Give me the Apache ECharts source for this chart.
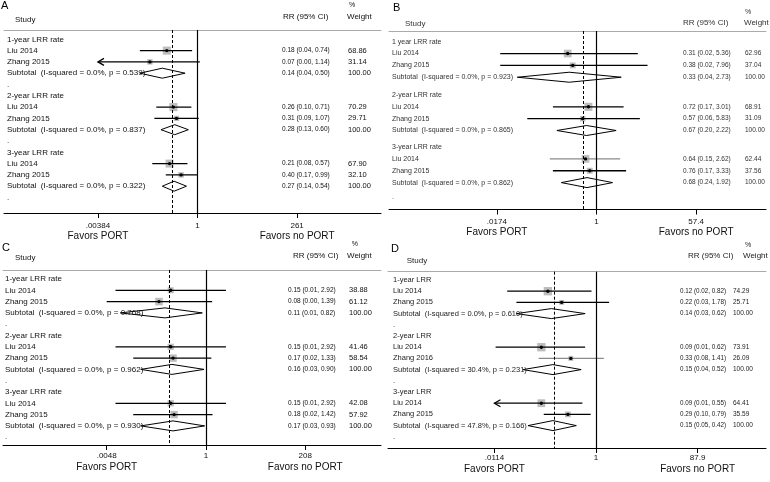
<!DOCTYPE html>
<html><head><meta charset="utf-8">
<script src="https://cdn.jsdelivr.net/npm/echarts@6/dist/echarts.min.js"></script>
<style>html,body{margin:0;padding:0;background:#fff}#c{width:770px;height:482px}</style>
</head><body><div id="c"></div>
<script>
// ---------------- Panel A ----------------
const A_groups = ['1-year LRR rate', '2-year LRR rate', '3-year LRR rate'];
const A_names = ['Liu 2014', 'Zhang 2015', 'Liu 2014', 'Zhang 2015', 'Liu 2014', 'Zhang 2015'];
const A_rr = [0.18, 0.07, 0.26, 0.31, 0.21, 0.40];
const A_lo = [0.04, 0.003, 0.10, 0.09, 0.08, 0.17];
const A_hi = [0.74, 1.14, 0.71, 1.07, 0.57, 0.99];
const A_w = [68.86, 31.14, 70.29, 29.71, 67.90, 32.10];
const A_subRR = [0.14, 0.28, 0.27];
const A_subLo = [0.04, 0.13, 0.14];
const A_subHi = [0.50, 0.60, 0.54];
const A_i2 = ['0.0%', '0.0%', '0.0%'];
const A_p = ['0.539', '0.837', '0.322'];
const A_tickVals = [0.00384, 1, 261];
const A_tickLabels = ['.00384', '1', '261'];
const A_overall = 0.25;

// ---------------- Panel B ----------------
const B_groups = ['1 year LRR rate', '2-year LRR rate', '3-year LRR rate'];
const B_names = ['Liu 2014', 'Zhang 2015', 'Liu 2014', 'Zhang 2015', 'Liu 2014', 'Zhang 2015'];
const B_rr = [0.31, 0.38, 0.72, 0.57, 0.64, 0.76];
const B_lo = [0.02, 0.02, 0.17, 0.06, 0.15, 0.17];
const B_hi = [5.36, 7.96, 3.01, 5.83, 2.62, 3.33];
const B_w = [62.96, 37.04, 68.91, 31.09, 62.44, 37.56];
const B_subRR = [0.33, 0.67, 0.68];
const B_subLo = [0.04, 0.20, 0.24];
const B_subHi = [2.73, 2.22, 1.92];
const B_i2 = ['0.0%', '0.0%', '0.0%'];
const B_p = ['0.923', '0.865', '0.862'];
const B_tickVals = [0.0174, 1, 57.4];
const B_tickLabels = ['.0174', '1', '57.4'];
const B_overall = 0.585;

// ---------------- Panel C ----------------
const C_groups = ['1-year LRR rate', '2-year LRR rate', '3-year LRR rate'];
const C_names = ['Liu 2014', 'Zhang 2015', 'Liu 2014', 'Zhang 2015', 'Liu 2014', 'Zhang 2015'];
const C_rr = [0.15, 0.08, 0.15, 0.17, 0.15, 0.18];
const C_lo = [0.0077, 0.0048, 0.0077, 0.02, 0.0077, 0.02];
const C_hi = [2.92, 1.39, 2.92, 1.33, 2.92, 1.42];
const C_w = [38.88, 61.12, 41.46, 58.54, 42.08, 57.92];
const C_subRR = [0.11, 0.16, 0.17];
const C_subLo = [0.01, 0.03, 0.03];
const C_subHi = [0.82, 0.90, 0.93];
const C_i2 = ['0.0%', '0.0%', '0.0%'];
const C_p = ['0.768', '0.962', '0.930'];
const C_tickVals = [0.0048, 1, 208];
const C_tickLabels = ['.0048', '1', '208'];
const C_overall = 0.139;

// ---------------- Panel D ----------------
const D_groups = ['1-year LRR', '2-year LRR', '3-year LRR'];
const D_names = ['Liu 2014', 'Zhang 2015', 'Liu 2014', 'Zhang 2016', 'Liu 2014', 'Zhang 2015'];
const D_rr = [0.12, 0.22, 0.09, 0.33, 0.09, 0.29];
const D_lo = [0.02, 0.03, 0.012, 0.08, 0.008, 0.10];
const D_hi = [0.82, 1.78, 0.62, 1.41, 0.55, 0.79];
const D_w = [74.29, 25.71, 73.91, 26.09, 64.41, 35.59];
const D_subRR = [0.14, 0.15, 0.15];
const D_subLo = [0.03, 0.04, 0.05];
const D_subHi = [0.62, 0.52, 0.42];
const D_i2 = ['0.0%', '30.4%', '47.8%'];
const D_p = ['0.610', '0.231', '0.166'];
const D_tickVals = [0.0114, 1, 87.9];
const D_tickLabels = ['.0114', '1', '87.9'];
const D_overall = 0.159;

const FONT = '"Liberation Sans", Arial, sans-serif';

// layout (pixels) per panel
const layouts = [
  {letter:'A', left:4, right:381, c:197.5, k:17.9, top:30, bottom:213, row0:39.3, s:11.3,
   groupRows:[0,5,10], dotRows:[4,9,14], labelX:7, rrX:282, wX:348, wAlign:'left', sep:' ',
   labelFs:8, valFs:6.5, wFs:7.5, color:'#111', letterPos:[1,6], studyPos:[15,20], pctPos:[349,5],
   rrHeadPos:[283,16.5], wHeadPos:[347,16.5], margin:8, fLine:11, gray:[]},
  {letter:'B', left:389, right:766, c:596.5, k:24.6, top:31, bottom:209.5, row0:41.7, s:11.84,
   groupRows:[0,4.5,8.9], dotRows:[13.15], labelX:392, rrX:683, wX:745, wAlign:'left', sep:' ',
   labelFs:7, valFs:6.5, wFs:6.5, color:'#333', letterPos:[393,8], studyPos:[405,23.3], pctPos:[745,11.7],
   rrHeadPos:[683,22.7], wHeadPos:[744,22.7], margin:7, fLine:11, gray:[4]},
  {letter:'C', left:3, right:381, c:206, k:18.6, top:270, bottom:445, row0:279, s:11.3,
   groupRows:[0,5,10], dotRows:[4,9,14], labelX:5, rrX:288, wX:349, wAlign:'left', sep:' ',
   labelFs:8, valFs:6.5, wFs:7.5, color:'#111', letterPos:[2,248], studyPos:[15,257.3], pctPos:[351.7,244],
   rrHeadPos:[293,255.7], wHeadPos:[347,255.7], margin:6, fLine:13, gray:[]},
  {letter:'D', left:388, right:766, c:596, k:22.7, top:271.7, bottom:448, row0:280, s:11.2,
   groupRows:[0,5,10], dotRows:[4,9,14], labelX:393, rrX:680, wX:733, wAlign:'left', sep:' ',
   labelFs:7.5, valFs:6.3, wFs:6.5, color:'#222', letterPos:[391,248.5], studyPos:[406.7,260.7], pctPos:[745,245],
   rrHeadPos:[688,255.7], wHeadPos:[743,255.7], margin:5, fLine:13, gray:[3]}
];

const panels = [
  {groups:A_groups, names:A_names, rr:A_rr, lo:A_lo, hi:A_hi, w:A_w, subRR:A_subRR, subLo:A_subLo, subHi:A_subHi, i2:A_i2, p:A_p, tickVals:A_tickVals, tickLabels:A_tickLabels, overall:A_overall},
  {groups:B_groups, names:B_names, rr:B_rr, lo:B_lo, hi:B_hi, w:B_w, subRR:B_subRR, subLo:B_subLo, subHi:B_subHi, i2:B_i2, p:B_p, tickVals:B_tickVals, tickLabels:B_tickLabels, overall:B_overall},
  {groups:C_groups, names:C_names, rr:C_rr, lo:C_lo, hi:C_hi, w:C_w, subRR:C_subRR, subLo:C_subLo, subHi:C_subHi, i2:C_i2, p:C_p, tickVals:C_tickVals, tickLabels:C_tickLabels, overall:C_overall},
  {groups:D_groups, names:D_names, rr:D_rr, lo:D_lo, hi:D_hi, w:D_w, subRR:D_subRR, subLo:D_subLo, subHi:D_subHi, i2:D_i2, p:D_p, tickVals:D_tickVals, tickLabels:D_tickLabels, overall:D_overall}
];

function txt(x, y, text, fs, color, align) {
  return {type:'text', x:x, y:y, silent:true,
    style:{text:text, fill:color, font: fs + 'px ' + FONT, fontSize:fs, fontFamily:FONT,
      align:align || 'left', verticalAlign:'middle', textAlign:align || 'left', textVerticalAlign:'middle'}};
}

const option = {animation:false, backgroundColor:'#fff', grid:[], xAxis:[], yAxis:[], series:[], graphic:[]};

panels.forEach(function (P, pi) {
  const L = layouts[pi];
  const xMin = (L.left - L.c) / L.k, xMax = (L.right - L.c) / L.k;
  const yMin = -(L.row0 - L.top) / L.s, yMax = (L.bottom - L.row0) / L.s;
  const tickLn = P.tickVals.map(Math.log);
  const lnMin = tickLn[0], lnMax = tickLn[2];

  option.grid.push({left:L.left, top:L.top, width:L.right - L.left, height:L.bottom - L.top});
  option.xAxis.push({
    type:'value', gridIndex:pi, min:xMin, max:xMax, position:'bottom',
    axisLine:{show:true, onZero:false, lineStyle:{color:'#000', width:1}},
    axisTick:{show:true, customValues:tickLn, length:5, lineStyle:{color:'#000', width:1}},
    splitLine:{show:false},
    axisLabel:{show:true, customValues:tickLn, margin:L.margin, hideOverlap:false,
      formatter:function (v) {
        let idx = 0, best = 1e9;
        tickLn.forEach(function (t, i) { if (Math.abs(t - v) < best) { best = Math.abs(t - v); idx = i; } });
        const lab = P.tickLabels[idx];
        if (idx === 0) return '{t|' + lab + '}\n{f|Favors PORT}';
        if (idx === 2) return '{t|' + lab + '}\n{f|Favors no PORT}';
        return '{t|' + lab + '}';
      },
      rich:{
        t:{fontSize:8, lineHeight:10, fontFamily:FONT, color:'#111', align:'center'},
        f:{fontSize:10, lineHeight:L.fLine, fontFamily:FONT, color:'#111', align:'center'}
      }}
  });
  option.xAxis.push({
    type:'value', gridIndex:pi, min:xMin, max:xMax, position:'top',
    axisLine:{show:true, onZero:false, lineStyle:{color:'#aaa', width:1}},
    axisTick:{show:false}, axisLabel:{show:false}, splitLine:{show:false}
  });
  option.yAxis.push({type:'value', gridIndex:pi, min:yMin, max:yMax, inverse:true, show:false});

  const xi = 2 * pi, yi = pi;

  const studyRow = function (i) { return L.groupRows[Math.floor(i / 2)] + 1 + (i % 2); };
  const subRow = function (g) { return L.groupRows[g] + 3; };
  const fmt = function (r, l, h) { return r.toFixed(2) + L.sep + '(' + l.toFixed(2) + ', ' + h.toFixed(2) + ')'; };

  const rowsText = [];
  P.groups.forEach(function (g, gi) {
    rowsText.push({row:L.groupRows[gi], label:g});
    for (let j = 0; j < 2; j++) {
      const si = gi * 2 + j;
      rowsText.push({row:studyRow(si), label:P.names[si], rr:fmt(P.rr[si], P.lo[si], P.hi[si]), w:P.w[si].toFixed(2)});
    }
    const wsum = P.w[gi * 2] + P.w[gi * 2 + 1];
    rowsText.push({row:subRow(gi), label:'Subtotal  (I-squared = ' + P.i2[gi] + ', p = ' + P.p[gi] + ')',
      rr:fmt(P.subRR[gi], P.subLo[gi], P.subHi[gi]), w:wsum.toFixed(2)});
  });
  L.dotRows.forEach(function (r) { rowsText.push({row:r, label:'.'}); });

  // reference lines (null effect & pooled estimate)
  option.series.push({
    type:'line', xAxisIndex:xi, yAxisIndex:yi, data:[[0, 0]], symbol:'none', silent:true, z:1,
    lineStyle:{opacity:0},
    markLine:{silent:true, symbol:'none', animation:false, label:{show:false},
      data:[
        {xAxis:0, lineStyle:{type:'solid', color:'#000', width:1.2}},
        {xAxis:Math.log(P.overall), lineStyle:{type:[3, 2], color:'#000', width:1}}
      ]}
  });

  // text columns
  option.series.push({
    type:'custom', xAxisIndex:xi, yAxisIndex:yi, silent:true, z:5,
    data:rowsText.map(function (t) { return [0, t.row]; }),
    renderItem:function (params, api) {
      const t = rowsText[params.dataIndex];
      const y = api.coord([0, t.row])[1];
      const ch = [txt(L.labelX, y, t.label, L.labelFs, L.color, 'left')];
      if (t.rr) ch.push(txt(L.rrX, y, t.rr, L.valFs, L.color, 'left'));
      if (t.w) ch.push(txt(L.wX, y, t.w, L.wFs, L.color, L.wAlign));
      return {type:'group', children:ch};
    }
  });

  // studies: box, CI line, point, arrows
  option.series.push({
    type:'custom', xAxisIndex:xi, yAxisIndex:yi, silent:true, z:3,
    data:P.rr.map(function (v, i) { return [studyRow(i), v, P.lo[i], P.hi[i], P.w[i]]; }),
    renderItem:function (params, api) {
      const row = api.value(0), rr = api.value(1), lo = api.value(2), hi = api.value(3), w = api.value(4);
      const llo = Math.log(lo), lhi = Math.log(hi);
      const a = api.coord([Math.max(llo, lnMin), row]);
      const b = api.coord([Math.min(lhi, lnMax), row]);
      const c = api.coord([Math.log(rr), row]);
      const side = 0.97 * Math.sqrt(w);
      const col = L.gray.indexOf(params.dataIndex) >= 0 ? '#8a8a8a' : '#000';
      const ch = [
        {type:'rect', shape:{x:c[0] - side / 2, y:c[1] - side / 2, width:side, height:side}, style:{fill:'#bdbdbd'}},
        {type:'line', shape:{x1:a[0], y1:a[1], x2:b[0], y2:b[1]}, style:{stroke:col, lineWidth:1.3}},
        {type:'circle', shape:{cx:c[0], cy:c[1], r:1.7}, style:{fill:'#000'}}
      ];
      if (llo < lnMin) ch.push({type:'polyline', shape:{points:[[a[0] + 6, a[1] - 3.5], [a[0], a[1]], [a[0] + 6, a[1] + 3.5]]}, style:{stroke:col, lineWidth:1.3, fill:null}});
      if (lhi > lnMax) ch.push({type:'polyline', shape:{points:[[b[0] - 6, b[1] - 3.5], [b[0], b[1]], [b[0] - 6, b[1] + 3.5]]}, style:{stroke:col, lineWidth:1.3, fill:null}});
      return {type:'group', children:ch};
    }
  });

  // subtotal diamonds
  option.series.push({
    type:'custom', xAxisIndex:xi, yAxisIndex:yi, silent:true, z:4,
    data:P.subRR.map(function (v, g) { return [subRow(g), v, P.subLo[g], P.subHi[g]]; }),
    renderItem:function (params, api) {
      const row = api.value(0);
      const l = api.coord([Math.log(api.value(2)), row]);
      const m = api.coord([Math.log(api.value(1)), row]);
      const r = api.coord([Math.log(api.value(3)), row]);
      const h = 5;
      return {type:'polygon', shape:{points:[[l[0], l[1]], [m[0], m[1] - h], [r[0], r[1]], [m[0], m[1] + h]]},
        style:{fill:null, stroke:'#000', lineWidth:1}};
    }
  });

  // headers
  option.graphic.push(txt(L.letterPos[0], L.letterPos[1], L.letter, 11, '#000', 'left'));
  option.graphic.push(txt(L.studyPos[0], L.studyPos[1], 'Study', 8, L.color, 'left'));
  option.graphic.push(txt(L.pctPos[0], L.pctPos[1], '%', 7, L.color, 'left'));
  option.graphic.push(txt(L.rrHeadPos[0], L.rrHeadPos[1], 'RR (95% CI)', 8, L.color, 'left'));
  option.graphic.push(txt(L.wHeadPos[0], L.wHeadPos[1], 'Weight', 8, L.color, 'left'));
});

const chart = echarts.init(document.getElementById('c'), null, {renderer:'canvas', width:770, height:482});
chart.setOption(option);
</script>
</body></html>
